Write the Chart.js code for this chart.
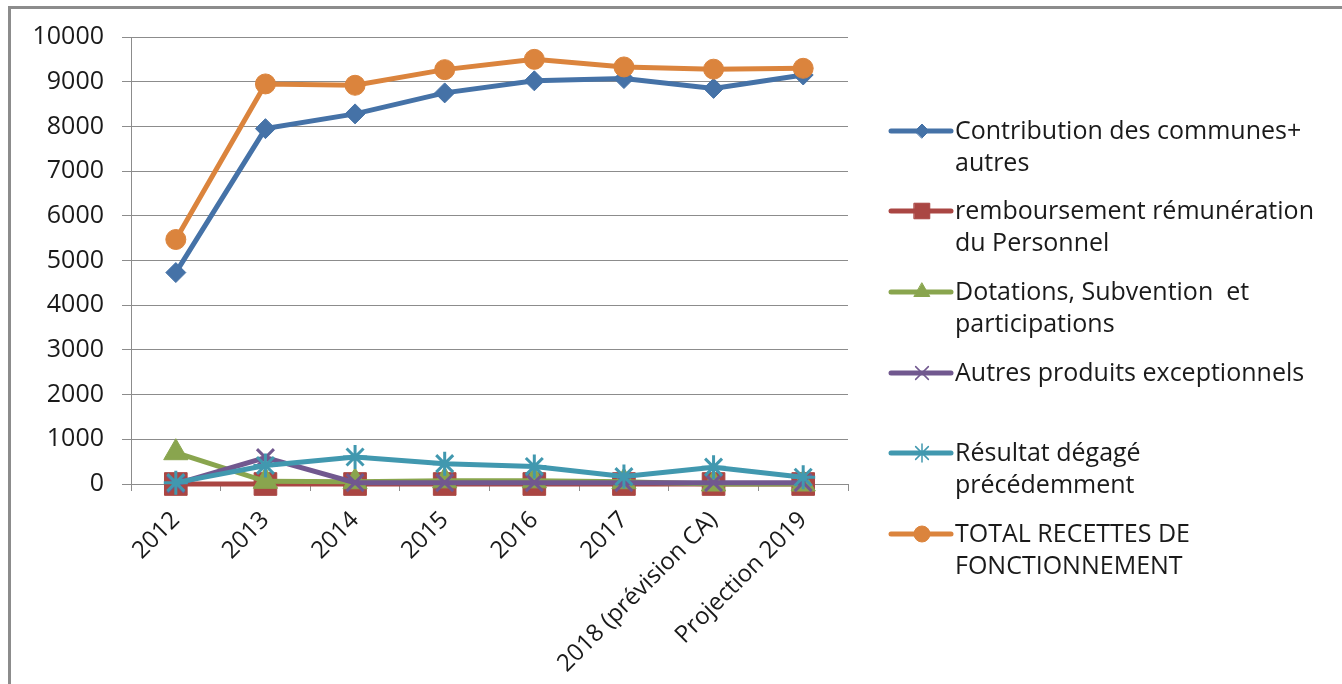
<!DOCTYPE html>
<html>
<head>
<meta charset="utf-8">
<script src="https://cdn.jsdelivr.net/npm/chart.js@4"></script>
<style>
  html, body { margin: 0; padding: 0; background: #fff; overflow: hidden; }
  #frame { position: absolute; left: 8px; top: 6px; width: 2000px; height: 2000px; border: 3px solid #8c8c8c; }
  #wrap { position: absolute; left: 0; top: 0; width: 1342px; height: 684px; }
</style>
</head>
<body>
<div id="frame"></div>
<div id="wrap"><canvas id="recettes"></canvas></div>
<script>
var categories = ["2012", "2013", "2014", "2015", "2016", "2017", "2018 (prévision CA)", "Projection 2019"];
var contribution = [4730, 7950, 8280, 8750, 9020, 9070, 8850, 9150];
var remboursement = [0, 0, 0, 0, 0, 0, 0, 0];
var dotations = [700, 60, 50, 70, 70, 50, 0, 0];
var autresProduits = [0, 590, 30, 30, 30, 30, 30, 30];
var resultat = [30, 415, 605, 455, 393, 166, 377, 150];
var totalRecettes = [5470, 8950, 8920, 9270, 9500, 9330, 9280, 9300];
var yTicks = [0, 1000, 2000, 3000, 4000, 5000, 6000, 7000, 8000, 9000, 10000];

var FONT = "'Open Sans', sans-serif";
var FONT_SIZE = 25;

function serie(label, data, color, style, radius, i, legendRadius) {
  return {
    label: label,
    data: data,
    borderColor: color,
    backgroundColor: color,
    pointBackgroundColor: color,
    pointBorderColor: color,
    pointStyle: style,
    pointRadius: radius,
    pointHoverRadius: radius,
    pointBorderWidth: (style === "crossRot" || style === "star") ? 3 : 1,
    borderWidth: 5,
    tension: 0,
    fill: false,
    clip: false,
    order: 10 - i,
    legendRadius: legendRadius
  };
}

var datasets = [
  serie(["Contribution des communes+", "autres"], contribution, "#4572A7", "rectRot", 10, 0, 7),
  serie(["remboursement rémunération", "du Personnel"], remboursement, "#AA4643", "rect", 16, 1, 11),
  serie(["Dotations, Subvention  et", "participations"], dotations, "#89A54E", "triangle", 14, 2, 9),
  serie(["Autres produits exceptionnels"], autresProduits, "#71588F", "crossRot", 12, 3, 9),
  serie(["Résultat dégagé", "précédemment"], resultat, "#4198AF", "star", 12, 4, 9),
  serie(["TOTAL RECETTES DE", "FONCTIONNEMENT"], totalRecettes, "#DB843D", "circle", 10, 5, 8)
];

// legend on the right, two-line labels with the series marker
var legendYs = [131, 211, 292, 373, 453, 534];
var sideLegend = {
  id: "sideLegend",
  afterDraw: function (chart) {
    var ctx = chart.ctx;
    ctx.save();
    chart.data.datasets.forEach(function (ds, i) {
      var y = legendYs[i];
      ctx.strokeStyle = ds.borderColor;
      ctx.lineWidth = 5;
      ctx.lineCap = "round";
      ctx.beginPath();
      ctx.moveTo(891, y);
      ctx.lineTo(951, y);
      ctx.stroke();
      ctx.fillStyle = ds.borderColor;
      ctx.strokeStyle = ds.borderColor;
      ctx.lineWidth = ds.pointBorderWidth > 1 ? 1.5 : 1;
      Chart.helpers.drawPoint(ctx, { pointStyle: ds.pointStyle, radius: ds.legendRadius, rotation: 0, borderWidth: ctx.lineWidth }, 922, y);
      ctx.fillStyle = "#1a1a1a";
      ctx.font = FONT_SIZE + "px " + FONT;
      ctx.textBaseline = "middle";
      ctx.textAlign = "left";
      ds.label.forEach(function (line, k) {
        ctx.fillText(line, 955, y + 1 + k * 32);
      });
    });
    ctx.restore();
  }
};

new Chart(document.getElementById("recettes"), {
  type: "line",
  data: { labels: categories, datasets: datasets },
  plugins: [sideLegend],
  options: {
    responsive: true,
    maintainAspectRatio: false,
    animation: false,
    layout: { padding: { top: 37, right: 494, bottom: 0, left: 0 } },
    plugins: { legend: { display: false }, tooltip: { enabled: false }, title: { display: false } },
    scales: {
      x: {
        offset: true,
        grid: { offset: true, drawOnChartArea: false, drawTicks: true, tickLength: 7, color: "#8c8c8c" },
        border: { color: "#8c8c8c", width: 1 },
        ticks: { minRotation: 45, maxRotation: 45, autoSkip: false, padding: 15, color: "#1a1a1a", font: { family: FONT, size: 24 } },
        afterFit: function (scale) { scale.height = 200; }
      },
      y: {
        min: 0,
        max: 10000,
        afterBuildTicks: function (scale) { scale.ticks = yTicks.map(function (v) { return { value: v }; }); },
        grid: { color: "#8c8c8c", tickLength: 9 },
        border: { color: "#8c8c8c", width: 1 },
        ticks: {
          padding: 18,
          color: "#1a1a1a",
          font: { family: FONT, size: FONT_SIZE },
          callback: function (v) { return String(v); }
        },
        afterFit: function (scale) { scale.width = 131; }
      }
    }
  }
});
</script>
</body>
</html>
